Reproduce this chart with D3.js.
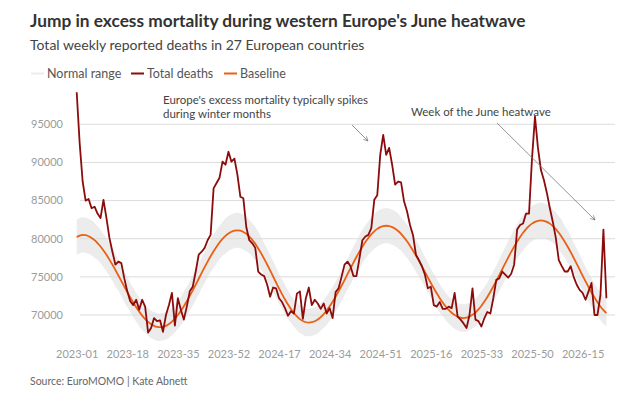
<!DOCTYPE html>
<html>
<head>
<meta charset="utf-8">
<script src="https://cdn.jsdelivr.net/npm/d3@7/dist/d3.min.js"></script>
<style>
    body { margin: 0; background: #fff; }
    svg text { font-family: Lato, "Noto Sans", sans-serif; }
</style>
</head>
<body>
<script>
// ISO weeks shown on the chart, per year
const yearWeeks = [[2023, 52], [2024, 52], [2025, 52], [2026, 23]];

// Weekly values, in thousands of deaths
const totalDeaths = [
    99.2, 92.5, 87.5, 85.0, 85.2, 84.0, 84.2, 83.3, 82.7, 85.1,
    82.7, 80.1, 78.3, 76.6, 77.0, 76.8, 74.8, 73.1, 71.8, 71.3,
    72.0, 70.7, 72.0, 71.1, 67.7, 68.3, 69.6, 69.2, 69.3, 67.8,
    70.0, 71.3, 72.9, 68.6, 72.2, 70.7, 69.4, 71.1, 73.1, 73.7,
    75.7, 77.9, 78.3, 78.8, 79.8, 80.5, 86.6, 87.3, 88.0, 90.1,
    89.7, 91.4, 90.1, 90.5, 88.4, 85.5, 85.3, 81.5, 79.8, 79.4,
    78.8, 75.7, 75.3, 75.1, 74.0, 72.4, 73.6, 73.5, 72.2, 71.7,
    70.9, 69.9, 70.5, 70.2, 72.8, 73.1, 69.5, 72.2, 73.6, 71.3,
    72.0, 71.5, 70.8, 71.5, 70.2, 70.9, 69.6, 73.0, 73.5, 75.0,
    76.6, 77.0, 76.4, 75.1, 75.1, 77.4, 79.8, 80.3, 80.5, 81.4,
    85.1, 85.7, 91.0, 93.6, 91.0, 91.9, 89.7, 87.1, 87.5, 87.4,
    84.9, 83.6, 81.8, 80.5, 77.9, 77.2, 76.4, 75.3, 73.5, 73.7,
    71.3, 71.1, 71.7, 70.8, 70.8, 71.1, 70.9, 72.9, 69.8, 69.4,
    68.9, 68.3, 70.0, 73.5, 69.4, 69.2, 68.5, 69.6, 70.4, 70.2,
    72.2, 74.6, 74.8, 75.7, 75.3, 74.9, 75.4, 76.6, 81.2, 81.8,
    82.0, 83.3, 83.3, 90.5, 96.0, 91.9, 89.0, 87.7, 86.0, 84.0,
    82.2, 80.1, 77.2, 76.4, 75.7, 75.7, 76.4, 75.0, 74.0, 73.3,
    72.9, 72.0, 73.1, 74.2, 70.0, 70.0, 72.6, 81.2, 72.2
];

const baseline = [
    80.20, 80.40, 80.50, 80.46, 80.32, 80.11, 79.81, 79.43, 78.98, 78.46,
    77.89, 77.26, 76.60, 75.90, 75.18, 74.45, 73.72, 73.00, 72.30, 71.64,
    71.01, 70.44, 69.92, 69.47, 69.09, 68.79, 68.58, 68.44, 68.40, 68.45,
    68.58, 68.81, 69.13, 69.52, 70.00, 70.54, 71.14, 71.80, 72.50, 73.23,
    73.98, 74.75, 75.52, 76.27, 77.00, 77.70, 78.36, 78.96, 79.50, 79.98,
    80.37, 80.69, 80.92, 81.05, 81.10, 81.05, 80.89, 80.64, 80.29, 79.85,
    79.33, 78.73, 78.08, 77.36, 76.62, 75.84, 75.05, 74.26, 73.48, 72.74,
    72.03, 71.37, 70.77, 70.25, 69.81, 69.46, 69.21, 69.05, 69.00, 69.05,
    69.18, 69.41, 69.73, 70.12, 70.60, 71.14, 71.74, 72.40, 73.10, 73.83,
    74.58, 75.35, 76.12, 76.87, 77.60, 78.30, 78.96, 79.56, 80.10, 80.58,
    80.97, 81.29, 81.52, 81.65, 81.70, 81.66, 81.52, 81.31, 81.01, 80.63,
    80.18, 79.66, 79.09, 78.46, 77.80, 77.10, 76.38, 75.65, 74.92, 74.20,
    73.50, 72.84, 72.21, 71.64, 71.12, 70.67, 70.29, 69.99, 69.78, 69.64,
    69.60, 69.65, 69.79, 70.02, 70.33, 70.73, 71.21, 71.76, 72.36, 73.03,
    73.73, 74.46, 75.23, 76.00, 76.77, 77.53, 78.27, 78.97, 79.64, 80.24,
    80.79, 81.27, 81.67, 81.98, 82.21, 82.35, 82.40, 82.35, 82.21, 81.98,
    81.66, 81.26, 80.78, 80.23, 79.61, 78.95, 78.24, 77.49, 76.73, 75.95,
    75.17, 74.41, 73.66, 72.95, 72.29, 71.67, 71.12, 70.64, 70.24
];

// half height of the grey "normal range" band around the baseline
const rangeHalf = [
    2.3, 2.3, 2.3, 2.3, 2.3, 2.3, 2.3, 2.2, 2.2, 2.2,
    2.2, 2.1, 2.1, 2.1, 2.0, 2.0, 2.0, 2.0, 1.9, 1.9,
    1.9, 1.9, 1.9, 1.8, 1.8, 1.8, 1.8, 1.8, 1.8, 1.8,
    1.8, 1.8, 1.8, 1.8, 1.8, 1.9, 1.9, 1.9, 1.9, 2.0,
    2.0, 2.0, 2.0, 2.1, 2.1, 2.1, 2.2, 2.2, 2.2, 2.2,
    2.3, 2.3, 2.3, 2.3, 2.3, 2.3, 2.3, 2.3, 2.2, 2.2,
    2.2, 2.2, 2.1, 2.1, 2.1, 2.0, 2.0, 2.0, 1.9, 1.9,
    1.9, 1.9, 1.8, 1.8, 1.8, 1.8, 1.8, 1.8, 1.8, 1.8,
    1.8, 1.8, 1.8, 1.8, 1.9, 1.9, 1.9, 1.9, 2.0, 2.0,
    2.0, 2.0, 2.1, 2.1, 2.1, 2.2, 2.2, 2.2, 2.2, 2.3,
    2.3, 2.3, 2.3, 2.3, 2.3, 2.3, 2.3, 2.3, 2.3, 2.2,
    2.2, 2.2, 2.2, 2.1, 2.1, 2.1, 2.0, 2.0, 2.0, 1.9,
    1.9, 1.9, 1.9, 1.8, 1.8, 1.8, 1.8, 1.8, 1.8, 1.8,
    1.8, 1.8, 1.8, 1.8, 1.8, 1.9, 1.9, 1.9, 1.9, 2.0,
    2.0, 2.0, 2.1, 2.1, 2.1, 2.2, 2.2, 2.2, 2.2, 2.3,
    2.3, 2.3, 2.3, 2.3, 2.3, 2.3, 2.3, 2.3, 2.3, 2.3,
    2.2, 2.2, 2.2, 2.2, 2.1, 2.1, 2.1, 2.0, 2.0, 2.0,
    1.9, 1.9, 1.9, 1.9, 1.8, 1.8, 1.8, 1.8, 1.8
];

const yTicks = [70, 75, 80, 85, 90, 95];
const xTickEvery = 17;

const legendItems = [
    { label: "Normal range", color: "#ececec" },
    { label: "Total deaths", color: "#8c0b0b" },
    { label: "Baseline", color: "#ea6015" }
];

// build the week labels, e.g. 2023-01
let weeks = [];
yearWeeks.forEach(function (yw) {
    for (let w = 1; w <= yw[1]; w++) {
        weeks.push(yw[0] + "-" + (w < 10 ? "0" + w : w));
    }
});

let rows = weeks.map(function (wk, i) {
    return { week: wk, total: totalDeaths[i], base: baseline[i], half: rangeHalf[i] };
});

const width = 640, height = 403;

var svg = d3.select("body").append("svg")
    .attr("width", width)
    .attr("height", height);

var x = d3.scalePoint()
    .domain(weeks)
    .range([76.7, 606.4]);

var y = d3.scaleLinear()
    .domain([70, 95])
    .range([315, 124.3]);

// titles
svg.append("text")
    .attr("x", 30)
    .attr("y", 27)
    .style("font-size", "17.3px")
    .style("font-weight", "bold")
    .style("fill", "#333")
    .text("Jump in excess mortality during western Europe's June heatwave");

svg.append("text")
    .attr("x", 30)
    .attr("y", 50)
    .style("font-size", "14px")
    .style("fill", "#444")
    .text("Total weekly reported deaths in 27 European countries");

// legend
var lx = [30, 130, 223];
var legend = svg.selectAll(".legend")
    .data(legendItems)
    .enter()
    .append("g")
    .attr("class", "legend")
    .attr("transform", (d, i) => "translate(" + lx[i] + ",78)");
legend.append("line")
    .attr("x1", 1).attr("x2", 14)
    .attr("y1", -4.5).attr("y2", -4.5)
    .style("stroke", d => d.color)
    .style("stroke-width", 2);
legend.append("text")
    .attr("x", 17)
    .style("font-size", "12.5px")
    .style("fill", "#555")
    .text(d => d.label);

// normal range band
var band = d3.area()
    .x(d => x(d.week))
    .y0(d => y(d.base - d.half))
    .y1(d => y(d.base + d.half))
    .curve(d3.curveMonotoneX);

svg.append("path")
    .datum(rows)
    .attr("d", band)
    .style("fill", "#ececec");

// gridlines + y labels
var grid = svg.selectAll(".grid")
    .data(yTicks)
    .enter()
    .append("g")
    .attr("class", "grid");
grid.append("line")
    .attr("x1", 80).attr("x2", 615)
    .attr("y1", d => y(d)).attr("y2", d => y(d))
    .style("stroke", "#dcdcdc")
    .style("stroke-width", 1);
grid.append("text")
    .attr("x", 63)
    .attr("y", d => y(d))
    .attr("dy", "0.35em")
    .style("text-anchor", "end")
    .style("font-size", "11px")
    .style("fill", "#9b9b9b")
    .text(d => d * 1000);

// x axis
var xAxis = d3.axisBottom(x)
    .tickValues(weeks.filter((d, i) => i % xTickEvery === 0))
    .tickSize(0)
    .tickPadding(0);
var gx = svg.append("g")
    .attr("transform", "translate(0,350)")
    .call(xAxis);
gx.select(".domain").remove();
gx.selectAll("text")
    .attr("dy", "0.35em")
    .attr("y", 4)
    .style("font-size", "11px")
    .style("font-family", "Lato, sans-serif")
    .style("fill", "#9b9b9b");

// lines
var baseLine = d3.line()
    .x(d => x(d.week))
    .y(d => y(d.base))
    .curve(d3.curveMonotoneX);
svg.append("path")
    .datum(rows)
    .attr("d", baseLine)
    .style("fill", "none")
    .style("stroke", "#ea6015")
    .style("stroke-width", 1.8);

var totalLine = d3.line()
    .x(d => x(d.week))
    .y(d => y(d.total));
svg.append("path")
    .datum(rows)
    .attr("d", totalLine)
    .style("fill", "none")
    .style("stroke", "#8c0b0b")
    .style("stroke-width", 1.8)
    .style("stroke-linejoin", "round");

// annotations
svg.append("defs").append("marker")
    .attr("id", "arrow")
    .attr("viewBox", "0 0 10 10")
    .attr("refX", 9).attr("refY", 5)
    .attr("markerWidth", 7).attr("markerHeight", 7)
    .attr("orient", "auto")
    .append("path")
    .attr("d", "M1,1 L9,5 L1,9")
    .style("fill", "none")
    .style("stroke", "#777")
    .style("stroke-width", 1.2);

var note1 = svg.append("text")
    .attr("x", 163)
    .attr("y", 104)
    .style("font-size", "11.5px")
    .style("fill", "#444");
note1.append("tspan").attr("x", 163).text("Europe's excess mortality typically spikes");
note1.append("tspan").attr("x", 163).attr("dy", 14).text("during winter months");

svg.append("line")
    .attr("x1", 352).attr("y1", 125)
    .attr("x2", 368).attr("y2", 141)
    .style("stroke", "#777")
    .style("stroke-width", 0.8)
    .attr("marker-end", "url(#arrow)");

svg.append("text")
    .attr("x", 411)
    .attr("y", 116)
    .style("font-size", "11.5px")
    .style("fill", "#444")
    .text("Week of the June heatwave");

svg.append("line")
    .attr("x1", 497).attr("y1", 123)
    .attr("x2", 595).attr("y2", 220)
    .style("stroke", "#777")
    .style("stroke-width", 0.8)
    .attr("marker-end", "url(#arrow)");

// source
svg.append("text")
    .attr("x", 30)
    .attr("y", 385)
    .style("font-size", "10.5px")
    .style("fill", "#666")
    .text("Source: EuroMOMO | Kate Abnett");
</script>
</body>
</html>
